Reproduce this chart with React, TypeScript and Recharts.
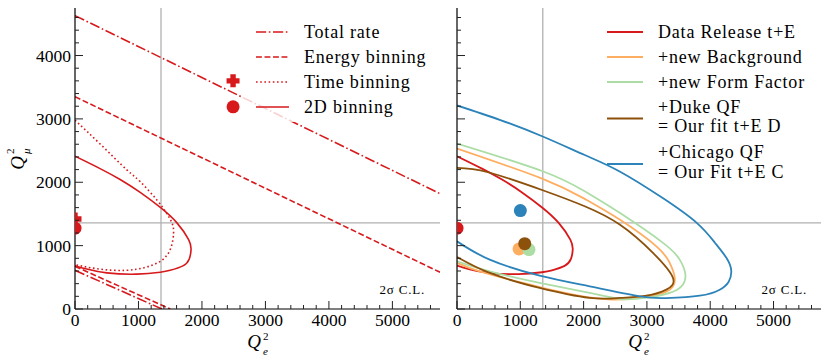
import React from 'react';
import { ComposedChart, Line, Scatter, XAxis, YAxis, ReferenceLine } from 'recharts';

type P = [number, number];

// ---------- axes ----------
const xTicks = [0, 200, 400, 600, 800, 1000, 1200, 1400, 1600, 1800, 2000, 2200, 2400, 2600, 2800, 3000, 3200, 3400, 3600, 3800, 4000, 4200, 4400, 4600, 4800, 5000, 5200, 5400, 5600];
const yTicks = [0, 200, 400, 600, 800, 1000, 1200, 1400, 1600, 1800, 2000, 2200, 2400, 2600, 2800, 3000, 3200, 3400, 3600, 3800, 4000, 4200, 4400, 4600];
const xDomain: [number, number] = [0, 5750];
const yDomain: [number, number] = [0, 4750];
const refX = 1355;
const refY = 1360;

// ---------- left panel ----------
const totalRateUpper: P[] = [[0, 4630], [5750, 1820]];
const totalRateLower: P[] = [[0, 610], [1370, 0]];
const energyUpper: P[] = [[0, 3350], [5750, 580]];
const energyLower: P[] = [[0, 673], [1500, 0]];
const timeBinning: P[] = [
  [0, 2980], [400, 2600], [816, 2196], [1027, 2010], [1290, 1720], [1450, 1500], [1527, 1360],
  [1553, 1200], [1500, 937], [1343, 752], [1100, 655], [800, 610], [400, 628], [0, 700],
];
const twoDBinning: P[] = [
  [0, 2411], [395, 2215], [711, 2043], [1027, 1840], [1354, 1595], [1606, 1359], [1790, 1095],
  [1828, 937], [1800, 790], [1700, 680], [1500, 610], [1343, 580], [975, 550], [501, 570], [185, 630], [0, 684],
];
const fitCross: P[] = [[0, 1420], [2490, 3600]];
const fitCircle: P[] = [[0, 1275], [2490, 3190]];

// ---------- right panel ----------
const newBackground: P[] = [
  [0, 2532], [1354, 2054], [2017, 1738], [2570, 1411], [3150, 989], [3360, 727], [3440, 490],
  [3360, 305], [3096, 210], [2834, 174], [2464, 147], [1833, 226], [1043, 411], [359, 594], [0, 727],
];
const newFormFactor: P[] = [
  [0, 2611], [1354, 2174], [2017, 1858], [2570, 1517], [3254, 1043], [3518, 779], [3608, 542],
  [3545, 357], [3360, 253], [3096, 190], [2834, 160], [2570, 158], [2096, 253], [1306, 411], [517, 594], [0, 752],
];
const dukeQF: P[] = [
  [0, 2227], [490, 2158], [1354, 1874], [2017, 1621], [2570, 1332], [3096, 885], [3412, 490],
  [3307, 305], [2992, 210], [2570, 174], [2096, 174], [1306, 332], [517, 569], [0, 821],
];
const chicagoQF: P[] = [
  [0, 3212], [675, 2985], [1354, 2722], [2017, 2430], [2570, 2170], [3250, 1750], [3787, 1359],
  [4071, 1050], [4260, 800], [4332, 605], [4292, 431], [4150, 305], [3834, 210], [3300, 172],
  [2888, 199], [2096, 357], [1306, 526], [517, 779], [0, 1068],
];
const ptRelease: P[] = [[0, 1275]];
const ptBackground: P[] = [[980, 948]];
const ptFormFactor: P[] = [[1137, 937]];
const ptDuke: P[] = [[1070, 1031]];
const ptChicago: P[] = [[1001, 1553]];

const leftLegend = ['Total rate', 'Energy binning', 'Time binning', '2D binning'];
const rightLegend = [['Data Release t+E'], ['+new Background'], ['+new Form Factor'], ['+Duke QF', '= Our fit t+E D'], ['+Chicago QF', '= Our Fit t+E C']];

const RED = '#d7191c';
const ORANGE = '#fdae61';
const GREEN = '#abdda4';
const BROWN = '#8c510a';
const BLUE = '#2b83ba';
const GRAY = '#b0b0b0';
const FONT = 'Liberation Serif';
const TXT: React.CSSProperties = { fontFamily: FONT };

const DASHDOT = '10.2 2.6 1.6 2.6';
const DASHED = '5.9 2.6';
const DOTTED = '1.6 2.6';

const toPts = (a: P[]) => a.map(([x, y]) => ({ x, y }));

function makeTick(side: 'bottom' | 'top' | 'left' | 'right', label: boolean) {
  return (props: any) => {
    const { x, y, payload } = props;
    const v = payload.value as number;
    const major = v % 1000 === 0;
    const len = major ? 8 : 4;
    let ln: any;
    let tx: any = null;
    const ts: React.CSSProperties = { fontFamily: FONT, fontSize: 17.5 };
    if (side === 'bottom') {
      ln = <line x1={x} x2={x} y1={y} y2={y - len} />;
      if (label && major) tx = <text x={x} y={y + 16.5} textAnchor="middle" style={ts}>{v}</text>;
    } else if (side === 'top') {
      ln = <line x1={x} x2={x} y1={y} y2={y + len} />;
    } else if (side === 'left') {
      ln = <line x1={x} x2={x + len} y1={y} y2={y} />;
      if (label && major) tx = <text x={x - 4} y={y + 6} textAnchor="end" style={ts}>{v}</text>;
    } else {
      ln = <line x1={x} x2={x - len} y1={y} y2={y} />;
    }
    return (
      <g>
        <g stroke="#222" strokeWidth={1}>{ln}</g>
        {tx && <g fill="#000" stroke="none">{tx}</g>}
      </g>
    );
  };
}

const circleShape = (color: string) => (p: any) => <circle cx={p.cx} cy={p.cy} r={6.5} fill={color} />;
const crossShape = (color: string) => (p: any) => {
  const s = 6.5, w = 2.7;
  const { cx, cy } = p;
  const d = `M${cx - w},${cy - s}H${cx + w}V${cy - w}H${cx + s}V${cy + w}H${cx + w}V${cy + s}H${cx - w}V${cy + w}H${cx - s}V${cy - w}H${cx - w}Z`;
  return <path d={d} fill={color} />;
};

function curve(key: string, pts: P[], color: string, width: number, dash?: string, type: any = 'natural') {
  return (
    <Line key={key} data={toPts(pts)} dataKey="y" type={type} stroke={color} strokeWidth={width}
      strokeDasharray={dash} dot={false} activeDot={false} isAnimationActive={false} legendType="none" />
  );
}
function marker(key: string, pts: P[], shape: any) {
  return <Scatter key={key} data={toPts(pts)} dataKey="y" shape={shape} isAnimationActive={false} legendType="none" />;
}

function Panel(props: { left: number; width: number; yWidth: number; right: number; yLabels: boolean; items: any[] }) {
  const axisLine = { stroke: '#000', strokeWidth: 1.2 };
  return (
    <div style={{ position: 'absolute', left: props.left, top: 0 }}>
      <ComposedChart width={props.width} height={363} margin={{ top: 8, right: props.right, bottom: 24, left: 0 }}>
        <XAxis xAxisId={0} type="number" dataKey="x" domain={xDomain} ticks={xTicks} interval={0} allowDataOverflow
          height={30} tickSize={0} tickMargin={0} tickLine={false} axisLine={axisLine} tick={makeTick('bottom', true)} />
        <XAxis xAxisId="top" orientation="top" type="number" dataKey="x" domain={xDomain} ticks={xTicks} interval={0} allowDataOverflow
          height={0} tickSize={0} tickMargin={0} tickLine={false} axisLine={axisLine} tick={makeTick('top', false)} />
        <YAxis yAxisId={0} type="number" dataKey="y" domain={yDomain} ticks={yTicks} interval={0} allowDataOverflow
          width={props.yWidth} tickSize={0} tickMargin={0} tickLine={false} axisLine={axisLine} tick={makeTick('left', props.yLabels)} />
        <YAxis yAxisId="right" orientation="right" type="number" dataKey="y" domain={yDomain} ticks={yTicks} interval={0} allowDataOverflow
          width={0} tickSize={0} tickMargin={0} tickLine={false} axisLine={axisLine} tick={makeTick('right', false)} />
        <ReferenceLine x={refX} stroke={GRAY} strokeWidth={1.3} />
        <ReferenceLine y={refY} stroke={GRAY} strokeWidth={1.3} />
        {props.items}
      </ComposedChart>
    </div>
  );
}

function AxisTitleX({ cx }: { cx: number }) {
  return (
    <g style={TXT} fill="#000">
      <text x={cx - 4} y={348} textAnchor="middle" fontStyle="italic" fontSize={19}>Q</text>
      <text x={cx + 5} y={340} fontSize={11}>2</text>
      <text x={cx + 5} y={355} fontSize={11} fontStyle="italic">e</text>
    </g>
  );
}

export default function App() {
  const leftItems = [
    curve('tr1', totalRateUpper, RED, 1.6, DASHDOT, 'linear'),
    curve('tr2', totalRateLower, RED, 1.6, DASHDOT, 'linear'),
    curve('en1', energyUpper, RED, 1.6, DASHED, 'linear'),
    curve('en2', energyLower, RED, 1.6, DASHED, 'linear'),
    curve('tb', timeBinning, RED, 1.6, DOTTED),
    curve('2d', twoDBinning, RED, 1.6),
    marker('mc', fitCross, crossShape(RED)),
    marker('mo', fitCircle, circleShape(RED)),
  ];
  const rightItems = [
    curve('r', twoDBinning, RED, 1.8),
    curve('o', newBackground, ORANGE, 1.8),
    curve('g', newFormFactor, GREEN, 1.8),
    curve('b', dukeQF, BROWN, 1.8),
    curve('c', chicagoQF, BLUE, 1.8),
    marker('pr', ptRelease, circleShape(RED)),
    marker('pc', ptChicago, circleShape(BLUE)),
    marker('po', ptBackground, circleShape(ORANGE)),
    marker('pg', ptFormFactor, circleShape(GREEN)),
    marker('pd', ptDuke, circleShape(BROWN)),
  ];
  const leftDash = [DASHDOT, DASHED, DOTTED, undefined];
  const rightColors = [RED, ORANGE, GREEN, BROWN, BLUE];
  const rightRows = [[32], [57], [82], [107, 126], [152, 172]];
  const legendText: React.CSSProperties = { fontFamily: FONT, fontSize: 18, letterSpacing: 0.8 };
  return (
    <div style={{ position: 'absolute', left: 0, top: 0, width: 830, height: 363, background: '#fff' }}>
      <Panel left={0} width={460} yWidth={75} right={20} yLabels={true} items={leftItems} />
      <Panel left={440} width={390} yWidth={17} right={9} yLabels={false} items={rightItems} />
      <svg width={830} height={363} style={{ position: 'absolute', left: 0, top: 0, pointerEvents: 'none' }}>
        <rect x={243} y={16} width={195} height={106} fill="#fff" fillOpacity={0.8} />
        {leftLegend.map((t, i) => {
          const y = 32 + i * 25;
          return (
            <g key={t}>
              <line x1={256} x2={289} y1={y} y2={y} stroke={RED} strokeWidth={1.6} strokeDasharray={leftDash[i]} />
              <text x={304} y={y + 6} style={legendText} fill="#000">{t}</text>
            </g>
          );
        })}
        {rightLegend.map((lines, i) => {
          const rows = rightRows[i];
          const ly = rows.length === 1 ? rows[0] : (rows[0] + rows[1]) / 2 + 2;
          return (
            <g key={i}>
              <line x1={607} x2={643} y1={ly} y2={ly} stroke={rightColors[i]} strokeWidth={1.8} />
              {lines.map((t, j) => (
                <text key={j} x={658} y={rows[j] + 6} style={legendText} fill="#000">{t}</text>
              ))}
            </g>
          );
        })}
        <text x={425} y={294} textAnchor="end" style={{ fontFamily: FONT, fontSize: 13, letterSpacing: 0.8 }} fill="#000">2σ C.L.</text>
        <text x={807} y={294} textAnchor="end" style={{ fontFamily: FONT, fontSize: 13, letterSpacing: 0.8 }} fill="#000">2σ C.L.</text>
        <AxisTitleX cx={258} />
        <AxisTitleX cx={639} />
        <g style={TXT} fill="#000">
          <text transform="translate(24,163) rotate(-90)" textAnchor="middle" fontStyle="italic" fontSize={19}>Q</text>
          <text transform="translate(14,154) rotate(-90)" fontSize={11}>2</text>
          <text transform="translate(30,154) rotate(-90)" fontSize={11} fontStyle="italic">μ</text>
        </g>
      </svg>
    </div>
  );
}
